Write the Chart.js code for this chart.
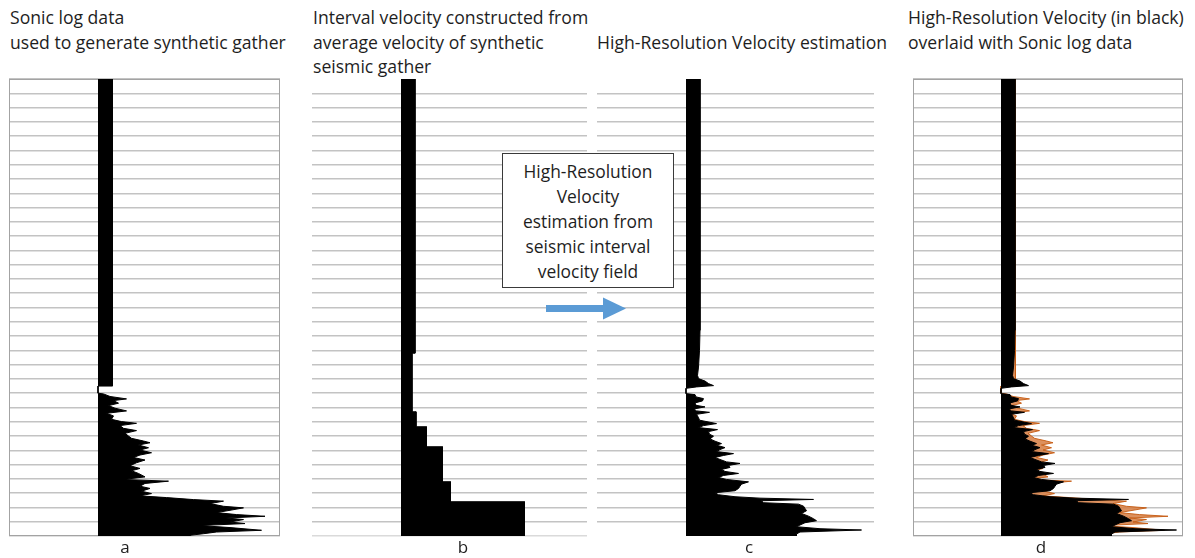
<!DOCTYPE html>
<html>
<head>
<meta charset="utf-8">
<script src="https://cdn.jsdelivr.net/npm/chart.js@4.4.0/dist/chart.umd.min.js"></script>
<style>
body { margin: 0; background: #fff; width: 1195px; height: 558px; overflow: hidden; position: relative; font-family: "Open Sans", sans-serif; color: #1e1e1e; }
.titulo { position: absolute; font-size: 17.6px; line-height: 24.5px; white-space: nowrap; }
.letra { position: absolute; top: 535px; font-size: 17px; line-height: 24px; transform: translateX(-50%); }
.painel { position: absolute; }
#caixa { position: absolute; left: 502px; top: 153px; width: 172px; height: 135px; border: 1.5px solid #3a3a3a; background: #fff;
         text-align: center; font-size: 17.4px; line-height: 25px; padding-top: 5px; box-sizing: border-box; white-space: nowrap; }
#seta { position: absolute; left: 546px; top: 296px; }
</style>
</head>
<body>

<div class="titulo" style="left:10px; top:5px">Sonic log data<br>used to generate synthetic gather</div>
<div class="titulo" style="left:313px; top:5px">Interval velocity constructed from<br>average velocity of synthetic<br>seismic gather</div>
<div class="titulo" style="left:597px; top:30px">High-Resolution Velocity estimation</div>
<div class="titulo" style="left:908px; top:5px">High-Resolution Velocity (in black)<br>overlaid with Sonic log data</div>

<canvas class="painel" id="painelA"></canvas>
<canvas class="painel" id="painelB"></canvas>
<canvas class="painel" id="painelC"></canvas>
<canvas class="painel" id="painelD"></canvas>

<div id="caixa">High-Resolution<br>Velocity<br>estimation from<br>seismic interval<br>velocity field</div>
<svg id="seta" width="84" height="26">
  <rect x="0" y="9" width="58" height="7" fill="#5b9bd5"/>
  <polygon points="57,1.5 80,12.5 57,23.5" fill="#5b9bd5"/>
</svg>

<div class="letra" style="left:125px">a</div>
<div class="letra" style="left:463px">b</div>
<div class="letra" style="left:749px">c</div>
<div class="letra" style="left:1041px">d</div>

<script>
// profundidade (m) e velocidade (m/s)
const velBase = 2780; // borda esquerda das colunas pretas

// a: perfil sonico
const sonicoProf = [0, 2150, 2150, 2200, 2205, 2223, 2240, 2252, 2270, 2287, 2305, 2324, 2341, 2359,
    2383, 2399, 2411, 2427, 2446, 2462, 2481, 2500, 2516, 2535, 2547, 2563, 2582, 2598, 2617, 2633,
    2650, 2668, 2687, 2708, 2727, 2743, 2762, 2786, 2804, 2816, 2832, 2851, 2867, 2886, 2903, 2919,
    2931, 2945, 2956, 2973, 2992, 3003, 3020, 3036, 3050, 3062, 3074, 3085, 3102, 3113, 3127, 3141,
    3160, 3172, 3184, 3195, 3200];
const sonicoVel = [3070, 3070, 2780, 2780, 2890, 3020, 3350, 3090, 3190, 2990, 3120, 3350, 2950, 3090,
    3050, 3250, 3550, 3220, 3290, 3550, 3320, 3390, 3450, 3690, 3820, 3590, 3790, 3620, 3850, 3620,
    3490, 3720, 3550, 3420, 3620, 3450, 3590, 3720, 3290, 4190, 3720, 3620, 3820, 3650, 3850, 3620,
    4150, 4690, 5290, 5020, 5290, 5690, 5420, 5150, 5550, 6120, 5350, 5690, 5420, 5720, 4820, 5420,
    6050, 5150, 4890, 4620, 4620];

// b: velocidade intervalar (degraus)
const intervaloProf = [0, 1920, 2330, 2435, 2575, 2820, 2960, 3200];
const intervaloVel = [3060, 3000, 3080, 3290, 3610, 3770, 5250];

// c e d: velocidade de alta resolucao
const altaProf = [0, 1760, 1900, 2017, 2075, 2098, 2115, 2133, 2147, 2156, 2166, 2203, 2210, 2226,
    2238, 2254, 2268, 2285, 2296, 2310, 2324, 2334, 2348, 2371, 2389, 2413, 2427, 2441, 2455, 2469,
    2487, 2501, 2520, 2536, 2553, 2564, 2581, 2595, 2609, 2623, 2636, 2650, 2664, 2681, 2692, 2706,
    2720, 2734, 2748, 2762, 2776, 2790, 2804, 2821, 2837, 2851, 2867, 2883, 2897, 2911, 2925, 2935,
    2944, 2953, 2967, 2977, 2991, 3007, 3023, 3042, 3061, 3079, 3093, 3107, 3123, 3135, 3149, 3158,
    3172, 3186, 3200];
const altaVel = [3060, 3060, 3050, 3030, 3010, 3030, 3160, 3230, 3330, 2990, 2780, 2780, 2960, 2980,
    3130, 3110, 2960, 2980, 3160, 2940, 2990, 3250, 2990, 3030, 3050, 3390, 3130, 3030, 3410, 3230,
    3250, 3330, 3260, 3360, 3490, 3390, 3560, 3460, 3390, 3730, 3530, 3360, 3460, 3590, 3860, 3630,
    3660, 3490, 3560, 3830, 3530, 3430, 3590, 4030, 3890, 3860, 3830, 3760, 3360, 3430, 3760, 4260,
    5330, 4290, 4330, 5030, 5130, 5160, 5190, 5090, 5230, 5330, 5390, 5160, 5060, 4990, 5460, 6290,
    5060, 4990, 4990];

const topo = 79;
const altura = 457;
const margem = 4;

const pontos = (prof, vel) => prof.map((p, i) => ({ x: vel[i], y: p }));

const degraus = [];
for (let i = 0; i < intervaloVel.length; i++) {
    degraus.push({ x: intervaloVel[i], y: intervaloProf[i] });
    degraus.push({ x: intervaloVel[i], y: intervaloProf[i + 1] });
}

function serie(dados, cor, fundo, ordem) {
    return {
        data: dados,
        borderColor: cor,
        backgroundColor: fundo,
        borderWidth: 1,
        pointRadius: 0,
        tension: 0,
        fill: { value: velBase },
        order: ordem
    };
}

const moldura = {
    id: 'moldura',
    beforeDatasetsDraw(chart, args, opts) {
        if (!opts.mostrar) return;
        const a = chart.chartArea;
        const ctx = chart.ctx;
        ctx.save();
        ctx.strokeStyle = '#a3a3a3';
        ctx.lineWidth = 1;
        ctx.strokeRect(a.left + 0.5, a.top + 0.5, a.right - a.left - 1, a.bottom - a.top - 1);
        ctx.restore();
    }
};

function criarPainel(id, esquerda, largura, xMin, datasets, corGrade, comMoldura) {
    const cv = document.getElementById(id);
    cv.width = largura + 2 * margem;
    cv.height = altura + 2 * margem;
    cv.style.left = (esquerda - margem) + 'px';
    cv.style.top = (topo - margem) + 'px';
    return new Chart(cv.getContext('2d'), {
        type: 'line',
        data: { datasets: datasets },
        plugins: [moldura],
        options: {
            responsive: false,
            animation: false,
            indexAxis: 'y',
            layout: { padding: margem },
            plugins: { legend: { display: false }, tooltip: { enabled: false }, moldura: { mostrar: comMoldura } },
            scales: {
                x: { type: 'linear', display: false, min: xMin, max: xMin + largura * 20 },
                y: {
                    type: 'linear', reverse: true, min: 0, max: 3200,
                    ticks: { display: false, stepSize: 100, autoSkip: false },
                    border: { display: false },
                    grid: { drawTicks: false, lineWidth: 1.5, color: corGrade }
                }
            }
        }
    });
}

const gradeCheia = () => '#c3c3c3';
const gradeB = ctx => ctx.tick.value === 0 ? 'rgba(0,0,0,0)' : (ctx.tick.value === 3200 ? '#dadada' : '#c3c3c3');
const gradeC = ctx => (ctx.tick.value === 0 || ctx.tick.value === 3200) ? 'rgba(0,0,0,0)' : '#c3c3c3';

criarPainel('painelA', 9, 271, 1000,
    [serie(pontos(sonicoProf, sonicoVel), '#000', '#000', 0)], gradeCheia, true);
criarPainel('painelB', 312, 275, 1000,
    [serie(degraus, '#000', '#000', 0)], gradeB, false);
criarPainel('painelC', 597, 277, 1000,
    [serie(pontos(altaProf, altaVel), '#000', '#000', 0)], gradeC, false);
criarPainel('painelD', 913, 270, 1020,
    [serie(pontos(altaProf, altaVel), '#000', '#000', 0),
     serie(pontos(sonicoProf, sonicoVel), 'rgba(197,90,17,0.9)', 'rgba(214,125,65,0.85)', 1)], gradeCheia, true);
</script>
</body>
</html>
